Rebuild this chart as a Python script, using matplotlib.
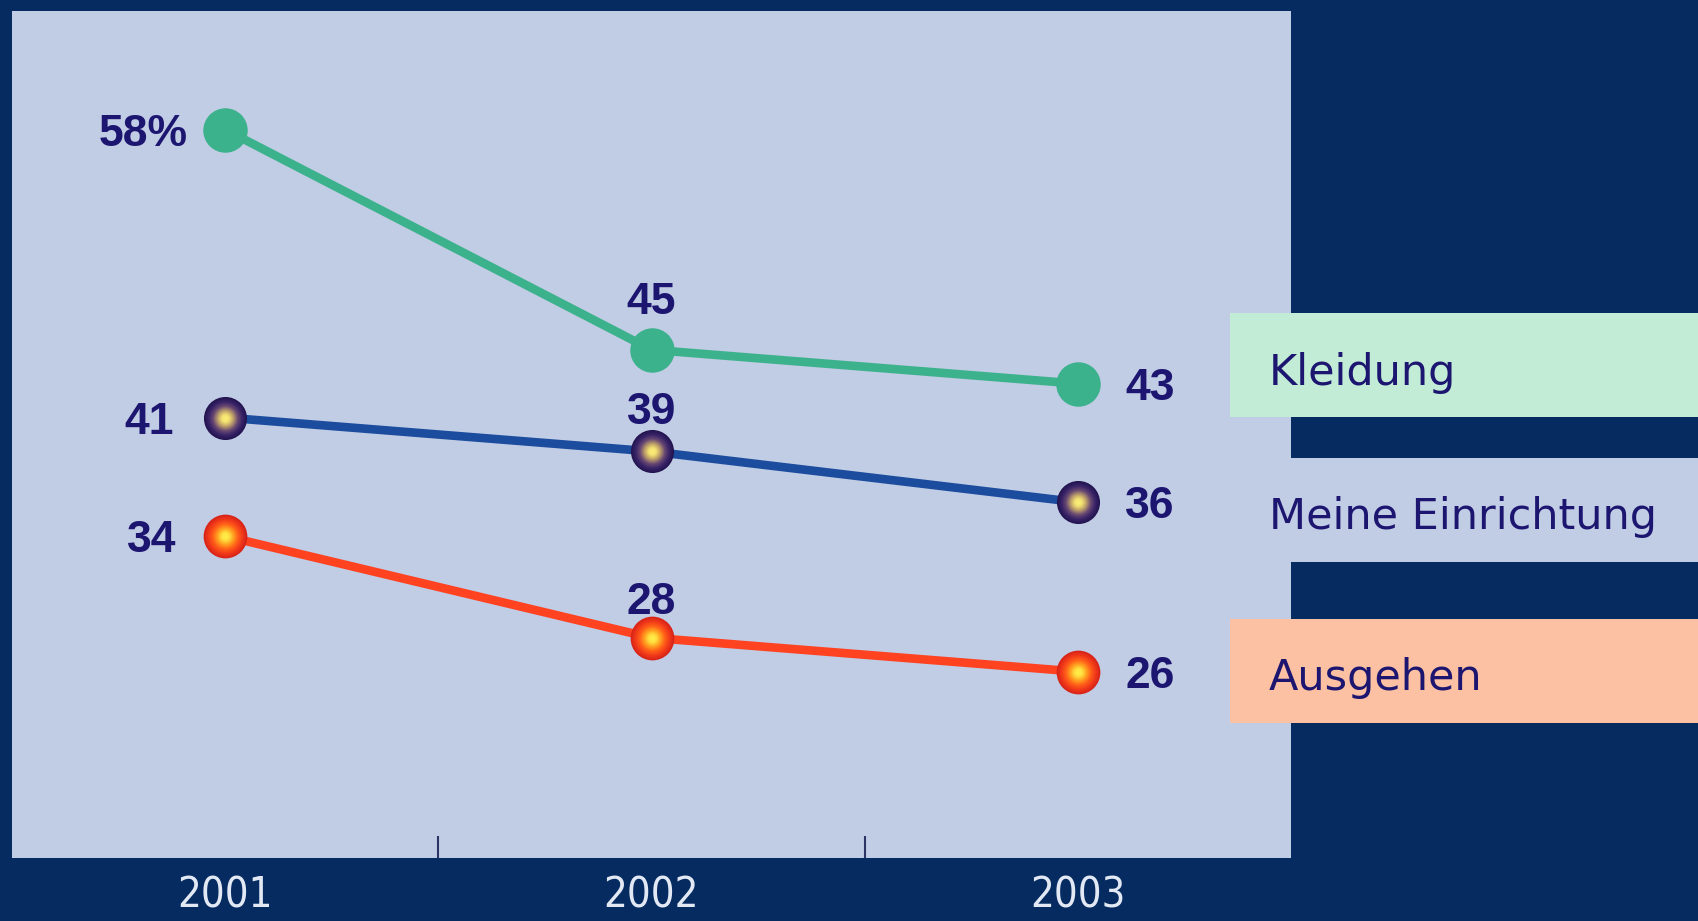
import numpy as np
import matplotlib.pyplot as plt
from matplotlib.colors import LinearSegmentedColormap
from matplotlib.patches import Rectangle

# data
years = [2001, 2002, 2003]
kleidung = [58, 45, 43]
einrichtung = [41, 39, 36]
ausgehen = [34, 28, 26]
names = ["Kleidung", "Meine Einrichtung", "Ausgehen"]

bg = "#062b60"
panel = "#c1cce5"
ink = "#1c1670"

fig = plt.figure(figsize=(16.98, 9.21), dpi=100, facecolor=bg)
ax = fig.add_axes([12 / 1698, 1 - 858 / 921, 1279 / 1698, 847 / 921])
ax.set_facecolor(panel)
ax.set_xlim(2000.5, 2003.5)
ax.set_ylim(15, 65)
for s in ax.spines.values():
    s.set_visible(False)
ax.set_yticks([])
ax.set_xticks(years)
ax.set_xticklabels([str(y) for y in years], fontstretch="condensed",
                   family=["DejaVu Sans"], fontsize=30, color="#e2e9f4")
ax.set_xticks([2001.5, 2002.5], minor=True)
ax.tick_params(axis="x", which="major", length=0, pad=12)
ax.tick_params(axis="x", which="minor", direction="in", length=16, width=1.5, color="#2a3566")


def ball(x, y, colors, size):
    cmap = LinearSegmentedColormap.from_list("b", colors)
    for i, f in enumerate(np.linspace(1, 0.05, 20)):
        ax.plot(x, y, "o", ms=size * f, color=cmap(1 - f), mec="none", zorder=4 + i * 0.01)


# Kleidung
ax.plot(years, kleidung, "-", color="#3cb28c", lw=6.2, zorder=2)
ax.plot(years, kleidung, "o", color="#3cb28c", ms=32, mec="none", zorder=4)

# Meine Einrichtung
ax.plot(years, einrichtung, "-", color="#1b4c9e", lw=6.2, zorder=2)
ball(years, einrichtung, ["#231450", "#3a2468", "#6a4a72", "#b89a6a", "#f2e070", "#fff27a"], 31)

# Ausgehen
ax.plot(years, ausgehen, "-", color="#ff4220", lw=6.2, zorder=2)
ball(years, ausgehen, ["#d82418", "#f23a1a", "#ff6018", "#ffa020", "#ffe040", "#fff24a"], 31.5)

# value labels
lbl = dict(color=ink, fontsize=32, fontweight="bold", family=["Liberation Sans", "DejaVu Sans"],
           textcoords="offset points")
left_dx = [-27, -37, -35]
mid_dy = [26, 20, 17]
for k, vals in enumerate([kleidung, einrichtung, ausgehen]):
    first = f"{vals[0]}%" if k == 0 else str(vals[0])
    ax.annotate(first, (years[0], vals[0]), xytext=(left_dx[k], -11.5), ha="right", va="baseline", **lbl)
    ax.annotate(str(vals[1]), (years[1], vals[1]), xytext=(0, mid_dy[k]), ha="center", va="baseline", **lbl)
    ax.annotate(str(vals[2]), (years[2], vals[2]), xytext=(34, -11.5), ha="left", va="baseline", **lbl)

# legend boxes on the right
box_colors = ["#c2ecd6", panel, "#fcc0a2"]
box_top = [313, 458, 619]
text_base = [385, 529, 690]
for name, c, top, base in zip(names, box_colors, box_top, text_base):
    fig.patches.append(Rectangle((1230 / 1698, 1 - (top + 104) / 921), 468 / 1698, 104 / 921,
                                 transform=fig.transFigure, facecolor=c, edgecolor="none", zorder=0))
    fig.text(1269 / 1698, 1 - base / 921, name, color=ink, fontsize=31, va="baseline", ha="left")

fig.savefig("out.png", dpi=100, facecolor=bg)
